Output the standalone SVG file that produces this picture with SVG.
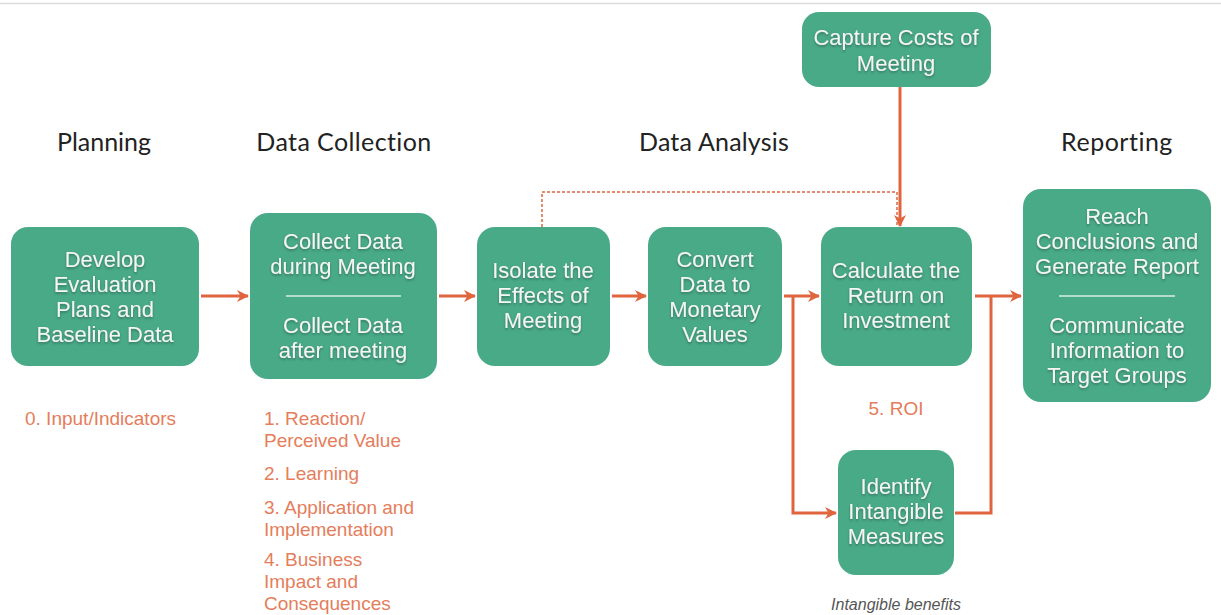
<svg xmlns="http://www.w3.org/2000/svg" width="1221" height="615" viewBox="0 0 1221 615">
  <style>
    .box { fill: #49aa88; }
    .nt { font-family: "Liberation Sans", Arial, sans-serif; font-size: 22px; fill: #f5f5f5; text-anchor: middle; filter: url(#tshadow); }
    .hd { font-family: Lato, "Open Sans", sans-serif; font-size: 25px; fill: #222; text-anchor: middle; }
    .lv { font-family: "Liberation Sans", Arial, sans-serif; font-size: 19px; fill: #e57d5b; }
    .note { font-family: "Liberation Sans", Arial, sans-serif; font-size: 16px; font-style: italic; fill: #555; text-anchor: middle; }
    .sep { stroke: #d9eee6; stroke-width: 1.5; }
    .conn { fill: none; stroke: #e0653f; stroke-width: 3; }
    .dot { fill: none; stroke: #e0653f; stroke-width: 1.5; stroke-dasharray: 3 2; }
  </style>
  <defs>
    <filter id="tshadow" x="-10%" y="-30%" width="120%" height="160%">
      <feDropShadow dx="0" dy="1.5" stdDeviation="1.2" flood-color="#1d4a3a" flood-opacity="0.55"/>
    </filter>
    <marker id="arr" viewBox="0 0 12 12" refX="11" refY="6" markerWidth="12" markerHeight="12" markerUnits="userSpaceOnUse" orient="auto">
      <path d="M0,0 L12,6 L0,12 L3.5,6 z" fill="#e0653f"/>
    </marker>
  </defs>

  <rect width="1221" height="615" fill="#fff"/>
  <line x1="0" y1="3.5" x2="1221" y2="3.5" stroke="#dcdcdc" stroke-width="1.5"/>

  <!-- phase headings -->
  <g id="headings">
    <text class="hd" x="104" y="151">Planning</text>
    <text class="hd" x="344" y="151" letter-spacing="0.4">Data Collection</text>
    <text class="hd" x="714" y="151" letter-spacing="0.2">Data Analysis</text>
    <text class="hd" x="1117" y="151" letter-spacing="0.5">Reporting</text>
  </g>

  <!-- connectors -->
  <g id="connectors">
    <line class="conn" x1="201" y1="296" x2="248" y2="296" marker-end="url(#arr)"/>
    <line class="conn" x1="439" y1="296" x2="475" y2="296" marker-end="url(#arr)"/>
    <line class="conn" x1="612" y1="296" x2="646" y2="296" marker-end="url(#arr)"/>
    <line class="conn" x1="784" y1="296" x2="819" y2="296" marker-end="url(#arr)"/>
    <polyline class="conn" points="793,296 793,513 836,513" marker-end="url(#arr)"/>
    <line class="conn" x1="975" y1="296" x2="1021" y2="296" marker-end="url(#arr)"/>
    <polyline class="conn" points="955,513 991,513 991,296"/>
    <line class="conn" x1="900" y1="87" x2="900" y2="226" marker-end="url(#arr)"/>
    <polyline class="dot" points="542,227 542,192 897,192 897,227"/>
  </g>

  <g id="develop">
    <rect class="box" x="11" y="227" width="188" height="139" rx="17"/>
    <text class="nt" x="105" y="267">Develop</text>
    <text class="nt" x="105" y="292">Evaluation</text>
    <text class="nt" x="105" y="317">Plans and</text>
    <text class="nt" x="105" y="342">Baseline Data</text>
  </g>

  <g id="collect">
    <rect class="box" x="250" y="213" width="187" height="166" rx="18"/>
    <text class="nt" x="343" y="249">Collect Data</text>
    <text class="nt" x="343" y="274">during Meeting</text>
    <line class="sep" x1="286" y1="296" x2="401" y2="296"/>
    <text class="nt" x="343" y="333">Collect Data</text>
    <text class="nt" x="343" y="358">after meeting</text>
  </g>

  <g id="isolate">
    <rect class="box" x="477" y="227" width="133" height="139" rx="18"/>
    <text class="nt" x="543" y="278">Isolate the</text>
    <text class="nt" x="543" y="303">Effects of</text>
    <text class="nt" x="543" y="328">Meeting</text>
  </g>

  <g id="convert">
    <rect class="box" x="648" y="227" width="134" height="139" rx="18"/>
    <text class="nt" x="715" y="267">Convert</text>
    <text class="nt" x="715" y="292">Data to</text>
    <text class="nt" x="715" y="317">Monetary</text>
    <text class="nt" x="715" y="342">Values</text>
  </g>

  <g id="calculate">
    <rect class="box" x="821" y="227" width="151" height="139" rx="18"/>
    <text class="nt" x="896" y="278">Calculate the</text>
    <text class="nt" x="896" y="303">Return on</text>
    <text class="nt" x="896" y="328">Investment</text>
  </g>

  <g id="capture">
    <rect class="box" x="802" y="12" width="189" height="75" rx="17"/>
    <text class="nt" x="896" y="45">Capture Costs of</text>
    <text class="nt" x="896" y="71">Meeting</text>
  </g>

  <g id="report">
    <rect class="box" x="1023" y="189" width="188" height="213" rx="18"/>
    <text class="nt" x="1117" y="224">Reach</text>
    <text class="nt" x="1117" y="249">Conclusions and</text>
    <text class="nt" x="1117" y="274">Generate Report</text>
    <line class="sep" x1="1059" y1="296" x2="1175" y2="296"/>
    <text class="nt" x="1117" y="333">Communicate</text>
    <text class="nt" x="1117" y="358">Information to</text>
    <text class="nt" x="1117" y="383">Target Groups</text>
  </g>

  <g id="intangible">
    <rect class="box" x="838" y="450" width="116" height="125" rx="18"/>
    <text class="nt" x="896" y="494">Identify</text>
    <text class="nt" x="896" y="519">Intangible</text>
    <text class="nt" x="896" y="544">Measures</text>
  </g>

  <!-- evaluation levels -->
  <g id="levels">
    <text class="lv" x="25" y="425">0. Input/Indicators</text>
    <text class="lv" x="264" y="425">1. Reaction/</text>
    <text class="lv" x="264" y="447">Perceived Value</text>
    <text class="lv" x="264" y="480">2. Learning</text>
    <text class="lv" x="264" y="514">3. Application and</text>
    <text class="lv" x="264" y="536">Implementation</text>
    <text class="lv" x="264" y="566">4. Business</text>
    <text class="lv" x="264" y="588">Impact and</text>
    <text class="lv" x="264" y="610">Consequences</text>
    <text class="lv" x="896" y="415" text-anchor="middle">5. ROI</text>
    <text class="note" x="896" y="610">Intangible benefits</text>
  </g>
</svg>
